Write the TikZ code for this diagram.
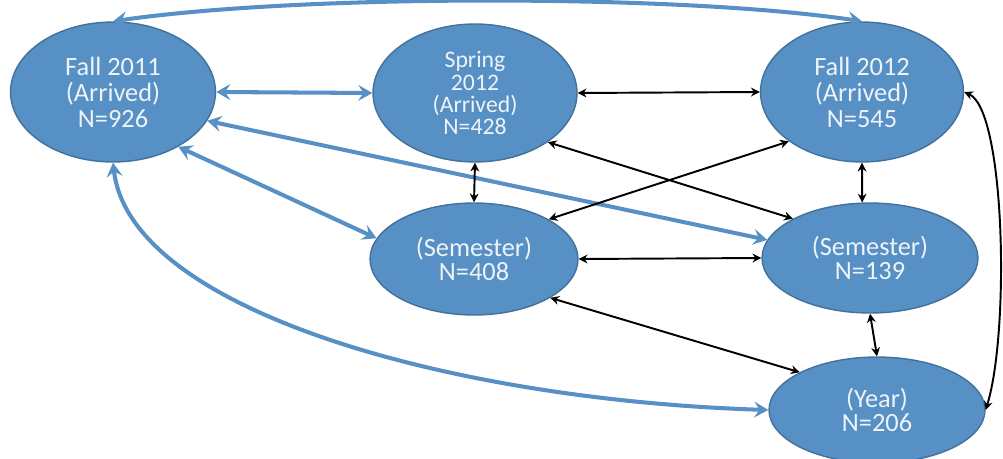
\documentclass[tikz,border=0pt]{standalone}
\usepackage{fontspec}
\setmainfont{Carlito}
\usetikzlibrary{arrows.meta,shapes.geometric}
\definecolor{cohortblue}{HTML}{5690C4}
\definecolor{cohortedge}{HTML}{41719C}
\definecolor{cohorttext}{HTML}{EEF3F8}

\begin{document}
\begin{tikzpicture}[
  x=0.02cm, y=-0.02cm,
  font=\fontsize{15}{14.8}\selectfont,
  cohort/.style={ellipse, draw=cohortedge, line width=0.8pt, fill=cohortblue,
    text=cohorttext, align=center, inner sep=0pt},
  mainlink/.style={{Stealth[length=8pt,width=9pt,inset=3pt]}-{Stealth[length=8pt,width=9pt,inset=3pt]},
    draw=cohortblue, line width=2.3pt},
  sidelink/.style={{Stealth[length=5pt,width=5pt]}-{Stealth[length=5pt,width=5pt]},
    draw=black, line width=1.1pt}
]
\useasboundingbox (0,0) rectangle (1003,459);

% arrival cohorts
\node[cohort, minimum width=4.1cm, minimum height=2.8cm] (fall11) at (113,92)
  {Fall 2011\\(Arrived)\\N=926};
\node[cohort, minimum width=4.08cm, minimum height=2.76cm,
  font=\fontsize{13.5}{12.6}\selectfont] (spring12) at (475,93)
  {Spring\\2012\\(Arrived)\\N=428};
\node[cohort, minimum width=4.06cm, minimum height=2.8cm] (fall12) at (862,92)
  {Fall 2012\\(Arrived)\\N=545};

% stays
\node[cohort, minimum width=4.16cm, minimum height=2.24cm,
  font=\fontsize{15}{14}\selectfont] (sem408) at (474,259)
  {(Semester)\\N=408};
\node[cohort, minimum width=4.32cm, minimum height=2.2cm,
  font=\fontsize{15}{14}\selectfont] (sem139) at (870,258)
  {(Semester)\\N=139};
\node[cohort, minimum width=4.32cm, minimum height=2.12cm,
  font=\fontsize{15}{14}\selectfont] (year206) at (877,410)
  {(Year)\\N=206};

% links from Fall 2011
\draw[mainlink] (fall11.north) .. controls (300,-6) and (680,-6) .. (fall12.north);
\draw[mainlink] (fall11.east) -- (spring12.west);
\draw[mainlink] (fall11.-17) -- (sem139.170);
\draw[mainlink] (fall11.-40) -- (sem408.168);
\draw[mainlink] (fall11.south) .. controls (130,310) and (450,400) .. (year206.west);

% remaining links
\draw[sidelink] (spring12.east) -- (fall12.west);
\draw[sidelink] (spring12.south) -- (sem408.north);
\draw[sidelink] (spring12.-34) -- (sem139.153);
\draw[sidelink] (fall12.214) -- (sem408.28);
\draw[sidelink] (fall12.south) -- (sem139.98);
\draw[sidelink] (sem408.east) -- (sem139.west);
\draw[sidelink] (sem408.-27) -- (year206.154);
\draw[sidelink] (sem139.south) -- (year206.north);
\draw[sidelink] (fall12.east) .. controls (1005,110) and (1010,330) .. (year206.east);
\end{tikzpicture}
\end{document}
